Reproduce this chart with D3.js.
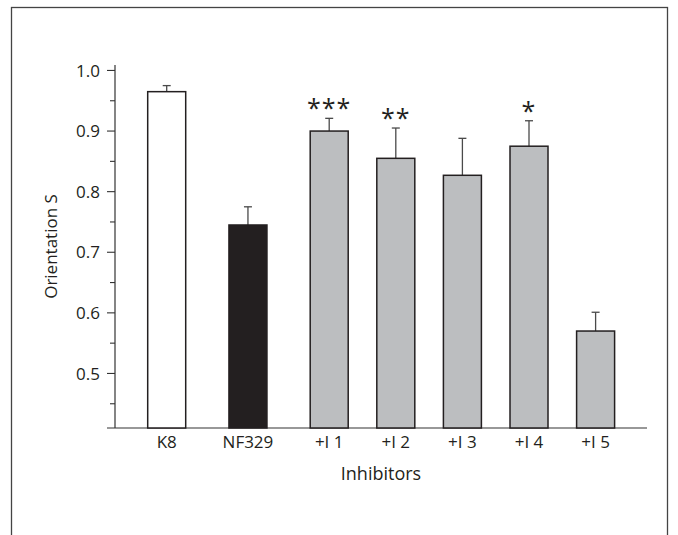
<!DOCTYPE html>
<html><head><meta charset="utf-8">
<script src="https://cdn.jsdelivr.net/npm/d3@7"></script>
<style>html,body{margin:0;padding:0;background:#fff;}svg{display:block;}</style>
</head><body>
<svg id="chart" width="678" height="535"></svg>
<script>
const categories = ["K8", "NF329", "+I 1", "+I 2", "+I 3", "+I 4", "+I 5"];
const means = [0.965, 0.745, 0.900, 0.855, 0.827, 0.875, 0.570];
const errors = [0.010, 0.030, 0.021, 0.050, 0.061, 0.042, 0.031];
const significance = ["", "", "***", "**", "", "*", ""];
const groups = ["control", "model", "inhibitor", "inhibitor", "inhibitor", "inhibitor", "inhibitor"];
const majorTicks = [0.5, 0.6, 0.7, 0.8, 0.9, 1.0];
const minorTicks = [0.45, 0.55, 0.65, 0.75, 0.85, 0.95];
const yTitle = "Orientation S";
const xTitle = "Inhibitors";

const fillFor = {control: "#ffffff", model: "#231f20", inhibitor: "#bcbec0"};
const font = "'Open Sans', 'Noto Sans', sans-serif";
const ink = "#231f20";

const svg = d3.select("#chart");

// frame
svg.append("rect").attr("x", 11.5).attr("y", 7.5).attr("width", 656).attr("height", 600)
  .attr("fill", "none").attr("stroke", "#444").attr("stroke-width", 1.3);

const y = d3.scaleLinear().domain([0.41, 1.009]).range([428, 65]);
// slot positions: the two reference bars are spaced wider than the inhibitor bars
const slots = categories.map((c, i) => i < 2 ? i * 1.22 : 2.44 + (i - 2));
const x = d3.scaleLinear().domain([0, 1]).range([166.7, 233.3]);
const barW = 38;
const axisX = 115;

// y axis
const gy = svg.append("g").attr("transform", `translate(${axisX},0)`);
gy.append("line").attr("y1", y(1.009)).attr("y2", y(0.41)).attr("stroke", "#333").attr("stroke-width", 1.2);
gy.selectAll(".major").data(majorTicks).join("line")
  .attr("x1", -8).attr("x2", 0).attr("y1", d => y(d)).attr("y2", d => y(d))
  .attr("stroke", "#333").attr("stroke-width", 1.1);
gy.selectAll(".minor").data(minorTicks).join("line")
  .attr("x1", -5).attr("x2", 0).attr("y1", d => y(d)).attr("y2", d => y(d))
  .attr("stroke", "#333").attr("stroke-width", 1.1);
gy.selectAll("text").data(majorTicks).join("text")
  .attr("x", -15).attr("y", d => y(d)).attr("dy", "0.36em")
  .attr("text-anchor", "end").attr("font-family", font).attr("font-size", 17).attr("fill", ink)
  .text(d3.format(".1f"));

// x axis line
svg.append("line").attr("x1", 107).attr("x2", 647).attr("y1", y(0.41)).attr("y2", y(0.41))
  .attr("stroke", "#333").attr("stroke-width", 1.2);

// bars
const data = categories.map((c, i) => ({c, m: means[i], e: errors[i], s: significance[i], g: groups[i], slot: slots[i]}));
const bars = svg.append("g");
bars.selectAll("line.err").data(data).join("line")
  .attr("x1", d => x(d.slot)).attr("x2", d => x(d.slot))
  .attr("y1", d => y(d.m)).attr("y2", d => y(d.m + d.e))
  .attr("stroke", "#4a4a4a").attr("stroke-width", 1.3);
bars.selectAll("line.cap").data(data).join("line")
  .attr("x1", d => x(d.slot) - 4).attr("x2", d => x(d.slot) + 4)
  .attr("y1", d => y(d.m + d.e)).attr("y2", d => y(d.m + d.e))
  .attr("stroke", "#4a4a4a").attr("stroke-width", 1.3);
bars.selectAll("rect").data(data).join("rect")
  .attr("x", d => x(d.slot) - barW / 2).attr("width", barW)
  .attr("y", d => y(d.m)).attr("height", d => y(0.41) - y(d.m))
  .attr("fill", d => fillFor[d.g]).attr("stroke", ink).attr("stroke-width", 1.5);

// significance stars
svg.selectAll("text.sig").data(data.filter(d => d.s)).join("text")
  .attr("x", d => x(d.slot)).attr("y", d => y(d.m + d.e) - 1)
  .attr("text-anchor", "middle").attr("font-family", font).attr("font-size", 25).attr("fill", ink)
  .attr("letter-spacing", 1)
  .text(d => d.s);

// category labels
svg.selectAll("text.cat").data(data).join("text")
  .attr("x", d => x(d.slot)).attr("y", 448)
  .attr("text-anchor", "middle").attr("font-family", font).attr("font-size", 17).attr("fill", ink)
  .text(d => d.c);

// titles
svg.append("text").attr("x", 381).attr("y", 480).attr("text-anchor", "middle")
  .attr("font-family", font).attr("font-size", 18).attr("fill", ink).text(xTitle);
svg.append("text").attr("transform", `translate(57,${(y(1.009) + y(0.41)) / 2}) rotate(-90)`)
  .attr("text-anchor", "middle").attr("font-family", font).attr("font-size", 17).attr("fill", ink).text(yTitle);
</script>
</body></html>
